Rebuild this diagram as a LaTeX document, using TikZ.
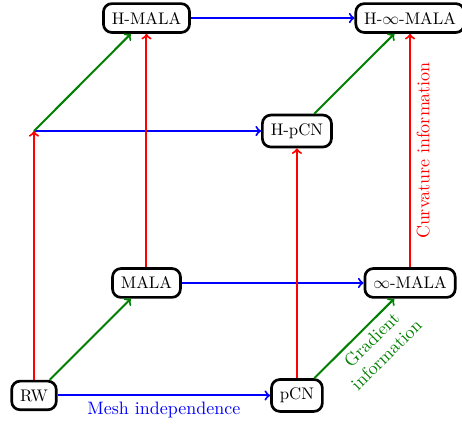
\documentclass[tikz,border=0pt]{standalone}
\usepackage{amsmath}
\usepackage{tikz}
\usetikzlibrary{arrows,positioning,calc}

\begin{document}
\begin{tikzpicture}
% Method cube

   \tikzstyle{method} = [draw, shape=rectangle, rounded corners=5pt, line width=1.6pt, inner xsep=5pt, inner ysep=5pt, fill=white]
   \tikzstyle{mesh} = [->, blue, line width=1.2pt]
   \tikzstyle{grad} = [->, green!50!black, line width=1.2pt]
   \tikzstyle{curv} = [->, red, line width=1.2pt]
   \tikzstyle{lab} = [font=\fontsize{10.7}{12.5}\selectfont]

\useasboundingbox (0,0) rectangle (9.667,8.913);

\node[method] at (0.711,0.638) (rw) {RW};
\node[method] at (6.213,0.638) (pcn) {pCN};
\node[method] at (3.065,2.992) (mala) {MALA};
\node[method] at (8.58,2.992) (imala) {$\infty$-MALA};
\coordinate (hrw) at (0.711,6.171);
\node[method] at (6.213,6.171) (hpcn) {H-pCN};
\node[method] at (3.065,8.535) (hmala) {H-MALA};
\node[method] at (8.58,8.535) (himala) {H-$\infty$-MALA};

% mesh independence
\draw[mesh] (rw)--(pcn) node[midway,below,lab,blue] {Mesh independence};
\draw[mesh] (mala)--(imala);
\draw[mesh] (hrw)--(hpcn);
\draw[mesh] (hmala)--(himala);

% gradient information
\draw[grad] (rw)--(mala);
\draw[grad] (pcn)--(imala) node[pos=0.6,sloped,below,lab,align=center] {Gradient\\information};
\draw[grad] (hrw)--(hmala);
\draw[grad] (hpcn)--(himala);

% curvature information
\draw[curv] (rw)--(hrw);
\draw[curv] (mala)--(hmala);
\draw[curv] (pcn)--(hpcn);
\draw[curv] (imala)--(himala) node[midway,sloped,below,lab] {Curvature information};
\end{tikzpicture}
\end{document}
